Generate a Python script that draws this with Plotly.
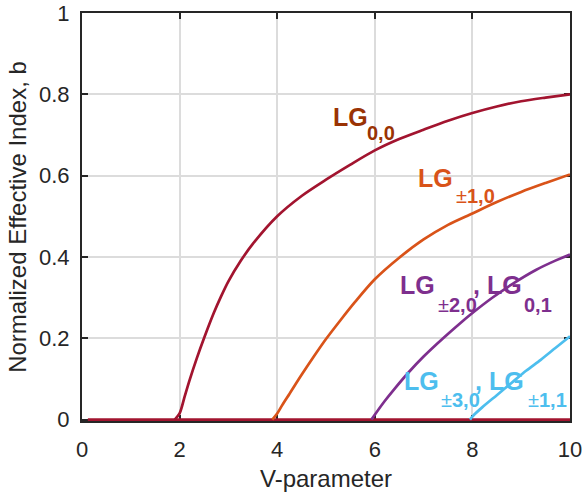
import plotly.graph_objects as go

# ---- data ----
v_base = [0.12, 10.0]
b_base = [0.0, 0.0]

v_lg00 = [1.9, 2.0, 2.1, 2.2, 2.35, 2.5, 2.7, 2.85, 3.0, 3.25, 3.5, 4.0, 4.5, 5.0, 5.5, 6.0, 6.5, 7.0, 7.5, 8.0, 8.5, 9.0, 9.5, 10.0]
b_lg00 = [0.0, 0.015, 0.055, 0.095, 0.15, 0.2, 0.262, 0.303, 0.34, 0.39, 0.432, 0.5, 0.55, 0.59, 0.627, 0.662, 0.69, 0.713, 0.735, 0.754, 0.77, 0.783, 0.792, 0.8]

v_lg10 = [3.9, 4.0, 4.1, 4.25, 4.5, 4.75, 5.0, 5.3, 5.6, 6.0, 6.5, 7.0, 7.5, 8.0, 8.5, 9.0, 9.5, 10.0]
b_lg10 = [0.0, 0.015, 0.035, 0.063, 0.11, 0.155, 0.198, 0.245, 0.29, 0.345, 0.398, 0.443, 0.479, 0.507, 0.535, 0.56, 0.582, 0.603]

v_lg20 = [5.93, 6.0, 6.2, 6.4, 6.7, 7.0, 7.4, 7.75, 8.0, 8.4, 8.8, 9.3, 9.7, 10.0]
b_lg20 = [0.0, 0.012, 0.045, 0.075, 0.117, 0.155, 0.2, 0.237, 0.262, 0.299, 0.332, 0.368, 0.391, 0.406]

v_lg30 = [7.95, 8.02, 8.2, 8.5, 8.8, 9.1, 9.4, 9.7, 10.0]
b_lg30 = [0.0, 0.01, 0.03, 0.06, 0.09, 0.12, 0.147, 0.176, 0.205]

x_ticks = [0, 2, 4, 6, 8, 10]
y_ticks = [0, 0.2, 0.4, 0.6, 0.8, 1]
x_tick_text = ["0", "2", "4", "6", "8", "10"]
y_tick_text = ["0", "0.2", "0.4", "0.6", "0.8", "1"]

RED = "#a2142f"
ORANGE = "#d95319"
PURPLE = "#7e2f8e"
CYAN = "#4dbeee"
LABEL_RED = "#9a3304"

fig = go.Figure()
series = [
    (v_base, b_base, RED),
    (v_lg00, b_lg00, RED),
    (v_lg10, b_lg10, ORANGE),
    (v_lg20, b_lg20, PURPLE),
    (v_lg30, b_lg30, CYAN),
]
for vx, by, col in series:
    fig.add_trace(go.Scatter(x=vx, y=by, mode="lines",
                             line=dict(color=col, width=2.7, shape="spline", smoothing=0.8),
                             showlegend=False, hoverinfo="skip"))

BIG = 25
SMALL = 20
FONT = "Liberation Sans, Arial, Helvetica, sans-serif"

# (text, x, y, size, color)
labels = [
    ("<b>LG</b>", 5.12, 0.745, BIG, LABEL_RED),
    ("<b>0,0</b>", 5.82, 0.704, SMALL, LABEL_RED),
    ("<b>LG</b>", 6.86, 0.594, BIG, ORANGE),
    ("±<b>1,0</b>", 7.64, 0.549, SMALL, ORANGE),
    ("<b>LG</b>", 6.50, 0.331, BIG, PURPLE),
    ("±<b>2,0</b>", 7.27, 0.281, SMALL, PURPLE),
    ("<b>, LG</b>", 8.00, 0.331, BIG, PURPLE),
    ("<b>0,1</b>", 9.04, 0.283, SMALL, PURPLE),
    ("<b>LG</b>", 6.58, 0.094, BIG, CYAN),
    ("±<b>3,0</b>", 7.34, 0.049, SMALL, CYAN),
    ("<b>, LG</b>", 8.04, 0.094, BIG, CYAN),
    ("±<b>1,1</b>", 9.11, 0.049, SMALL, CYAN),
]
for txt, x, y, sz, col in labels:
    fig.add_annotation(x=x, y=y, text=txt, showarrow=False, xanchor="left", yanchor="middle",
                       font=dict(family=FONT, size=sz, color=col), borderpad=0)

axis_common = dict(
    showline=True, linecolor="#262626", linewidth=2, mirror="allticks",
    ticks="inside", ticklen=6, tickwidth=2, tickcolor="#262626",
    showgrid=True, gridcolor="#dcdcdc", gridwidth=1.7,
    zeroline=False, tickfont=dict(family=FONT, size=22, color="#262626"),
    layer="below traces", automargin=False,
)

fig.update_xaxes(range=[0, 10], tickvals=x_ticks, ticktext=x_tick_text,
                 title=dict(text="V-parameter", font=dict(family=FONT, size=24, color="#262626"), standoff=9),
                 ticklabelstandoff=8, **axis_common)
fig.update_yaxes(range=[-0.0035, 1], tickvals=y_ticks, ticktext=y_tick_text,
                 title=dict(text="Normalized Effective Index, b", font=dict(family=FONT, size=24, color="#262626"), standoff=6),
                 ticklabelstandoff=6, **axis_common)

fig.update_layout(
    width=583, height=496,
    margin=dict(l=82, r=13, t=13, b=75, autoexpand=False),
    plot_bgcolor="white", paper_bgcolor="white",
    showlegend=False,
)

fig.write_html("out.html")
